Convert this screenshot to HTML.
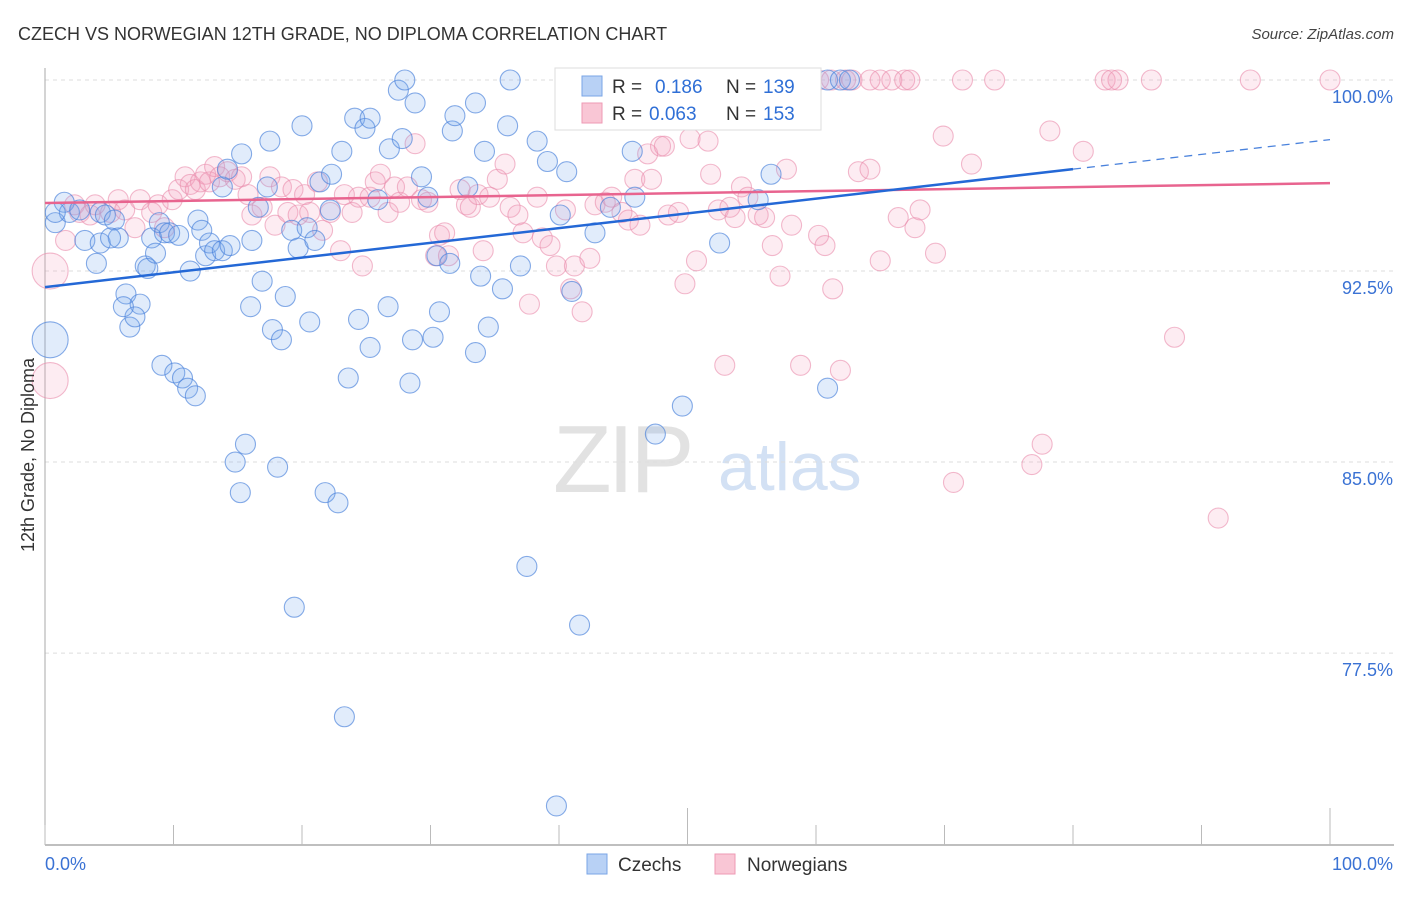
<!DOCTYPE html>
<html><head><meta charset="utf-8">
<style>
body{margin:0;background:#fff;font-family:"Liberation Sans",sans-serif;}
svg text{font-family:"Liberation Sans",sans-serif;}
</style></head>
<body>
<svg id="chart" width="1406" height="892" viewBox="0 0 1406 892" xmlns="http://www.w3.org/2000/svg">
<text x="18" y="40" font-size="18" fill="#333">CZECH VS NORWEGIAN 12TH GRADE, NO DIPLOMA CORRELATION CHART</text>
<text x="1394" y="39" font-size="15" fill="#444" text-anchor="end" font-style="italic">Source: ZipAtlas.com</text>
<g>
<text x="553" y="492" font-size="96" fill="#e2e2e2" font-family="Liberation Serif" letter-spacing="-4">ZIP</text>
<text x="718" y="490" font-size="68" fill="#d3e1f4">atlas</text>
</g>
<g id="grid"></g>
<g id="axes"></g>
<g id="pts-n"></g>
<g id="pts-c"></g>
<g id="trends"></g>
<text transform="translate(34,455) rotate(-90)" font-size="18" fill="#333" text-anchor="middle">12th Grade, No Diploma</text>
<g>
<rect x="555" y="68" width="266" height="62" fill="#fff" stroke="#ddd"/>
<rect x="582" y="76" width="20" height="20" fill="#b8d1f5" stroke="#7aa5e6"/>
<rect x="582" y="103" width="20" height="20" fill="#f9c6d5" stroke="#ee9ab4"/>
<text x="612" y="93" font-size="19" fill="#333">R =</text>
<text x="655" y="93" font-size="19" fill="#2f6fd6">0.186</text>
<text x="726" y="93" font-size="19" fill="#333">N =</text>
<text x="763" y="93" font-size="19" fill="#2f6fd6">139</text>
<text x="612" y="120" font-size="19" fill="#333">R =</text>
<text x="649" y="120" font-size="19" fill="#2f6fd6">0.063</text>
<text x="726" y="120" font-size="19" fill="#333">N =</text>
<text x="763" y="120" font-size="19" fill="#2f6fd6">153</text>
</g>
<g>
<rect x="587" y="854" width="20" height="20" fill="#b8d1f5" stroke="#7aa5e6"/>
<text x="618" y="871" font-size="19" fill="#333">Czechs</text>
<rect x="715" y="854" width="20" height="20" fill="#f9c6d5" stroke="#ee9ab4"/>
<text x="747" y="871" font-size="19" fill="#333">Norwegians</text>
</g>
</svg>
<script>
const yTicks=[100,92.5,85,77.5];
const yTickLabels=["100.0%","92.5%","85.0%","77.5%"];
const xTicks=[0,10,20,30,40,50,60,70,80,90,100];
const czechX=[0.8,0.4,1.5,1.9,0.8,2.7,4.3,4.7,5.4,3.1,4.3,5.7,5.1,4.0,6.3,7.4,6.6,7.0,6.1,7.8,8.0,8.3,8.6,8.9,9.3,9.7,10.4,11.3,9.1,10.1,10.7,11.1,11.7,11.9,12.2,12.5,12.8,13.2,13.8,14.4,13.8,14.2,15.3,14.8,15.2,15.6,16.0,16.1,16.6,16.9,17.3,17.5,17.7,18.1,18.4,18.7,19.2,19.4,19.7,20.0,20.4,20.6,21.0,21.4,21.8,22.2,22.3,22.8,23.1,23.3,23.6,24.1,24.4,24.9,25.3,25.3,25.9,26.7,26.8,27.5,27.8,28.0,28.4,28.6,28.8,29.3,29.8,30.2,30.5,30.7,31.5,31.7,31.9,32.9,33.5,33.5,33.9,34.2,34.5,35.6,36.0,36.2,37.0,37.5,38.3,39.1,39.8,40.1,40.6,41.0,41.6,42.8,44.0,44.6,45.7,45.9,46.5,47.5,48.0,49.6,52.5,53.3,55.5,56.5,60.9,60.9,61.9,62.6];
const czechY=[94.4,89.8,95.2,94.8,94.8,94.9,94.8,94.7,94.5,93.7,93.6,93.8,93.8,92.8,91.6,91.2,90.3,90.7,91.1,92.7,92.6,93.8,93.2,94.4,94.0,94.0,93.9,92.5,88.8,88.5,88.3,87.9,87.6,94.5,94.1,93.1,93.6,93.3,93.3,93.5,95.8,96.5,97.1,85.0,83.8,85.7,91.1,93.7,95.0,92.1,95.8,97.6,90.2,84.8,89.8,91.5,94.1,79.3,93.4,98.2,94.2,90.5,93.7,96.0,83.8,94.9,96.3,83.4,97.2,75.0,88.3,98.5,90.6,98.1,98.5,89.5,95.3,91.1,97.3,99.6,97.7,100,88.1,89.8,99.1,96.2,95.4,89.9,93.1,90.9,92.8,98.0,98.6,95.8,99.1,89.3,92.3,97.2,90.3,91.8,98.2,100,92.7,80.9,97.6,96.8,71.5,94.7,96.4,91.7,78.6,94.0,95.0,100,97.2,95.4,100,86.1,99.4,87.2,93.6,100,95.3,96.3,87.9,100,100,100];
const norX=[0.4,0.4,1.6,2.3,2.7,3.5,3.9,5.1,5.7,6.2,7.0,7.4,8.3,8.8,9.3,9.9,10.4,10.9,11.3,11.7,12.1,12.5,12.8,13.2,13.6,14.2,14.8,15.3,15.8,16.1,16.9,17.5,17.9,18.4,18.9,19.3,19.7,20.2,20.6,21.2,21.6,22.2,23.0,23.3,23.9,24.4,24.7,25.3,25.7,26.1,26.7,27.2,27.6,28.2,28.8,29.3,29.8,30.4,30.7,31.1,31.4,32.3,32.8,33.1,33.7,34.1,34.6,35.2,35.8,36.2,36.8,37.2,37.7,38.3,38.7,39.3,39.8,40.5,40.9,41.2,41.8,42.4,42.8,43.6,44.1,44.9,45.4,45.9,46.3,46.9,47.2,47.9,48.2,48.5,49.3,49.8,50.2,50.7,51.6,51.8,52.4,52.9,53.3,53.7,54.2,54.7,55.5,56.0,56.6,57.2,57.7,58.1,58.8,60.2,60.7,61.3,61.9,62.3,62.8,63.3,64.2,65.0,65.0,65.9,66.4,66.9,67.7,68.1,69.3,69.9,70.7,71.4,72.1,73.9,76.8,77.6,78.2,80.8,82.5,83.5,86.1,87.9,91.3,93.8,100,60.2,61.2,64.2,67.3,83.0];
const norY=[88.2,92.5,93.7,95.1,94.8,94.7,95.1,94.8,95.3,94.9,94.2,95.3,94.8,95.1,94.2,95.3,95.7,96.2,95.9,95.7,96.0,96.3,96.0,96.6,96.2,96.4,96.1,96.2,95.5,94.7,95.0,96.2,94.3,95.8,94.8,95.7,94.7,95.5,94.8,96.0,94.1,94.8,93.3,95.5,94.8,95.4,92.7,95.4,96.0,96.3,94.8,95.8,95.2,95.8,97.5,95.3,95.2,93.1,93.9,94.0,93.1,95.7,95.1,95.0,95.5,93.3,95.4,96.1,96.7,95.0,94.7,94.0,91.2,95.4,93.8,93.5,92.7,94.9,91.8,92.7,90.9,93.0,95.1,95.2,95.4,94.8,94.5,96.1,94.3,97.1,96.1,97.4,97.4,94.7,94.8,92.0,97.7,92.9,97.6,96.3,94.9,88.8,95.0,94.6,95.8,95.4,94.7,94.6,93.5,92.3,96.5,94.3,88.8,93.9,93.5,91.8,88.6,100,100,96.4,96.5,92.9,100,100,94.6,100,94.2,94.9,93.2,97.8,84.2,100,96.7,100,84.9,85.7,98.0,97.2,100,100,100,89.9,82.8,100,100,100,100,100,100,100];
const czechTrend=[[0,91.87],[80,96.5],[100,97.66]];
const norTrend=[[0,95.17],[100,95.95]];
const X0=45,X1=1330,Y100=80,PXPER=25.47;
const sx=v=>X0+(X1-X0)*v/100;
const sy=v=>Y100+(100-v)*PXPER;
const NS="http://www.w3.org/2000/svg";
function mk(t,a,p){const e=document.createElementNS(NS,t);for(const k in a)e.setAttribute(k,a[k]);p.appendChild(e);return e;}
const grid=document.getElementById('grid'),axes=document.getElementById('axes');
yTicks.forEach((t,i)=>{
 const g=mk('line',{x1:45,x2:1394,y1:sy(t),y2:sy(t),stroke:'#ddd','stroke-dasharray':'4,4'},grid);
 
 
 const l=mk('text',{x:1393,y:sy(t)+23,'font-size':18,fill:'#3a72d4','text-anchor':'end'},axes);
 l.textContent=yTickLabels[i];
 
 
});
const ya=mk('line',{x1:45,x2:45,y1:68,y2:845,stroke:'#aaa'},axes);


const xa=mk('line',{x1:45,x2:1394,y1:845,y2:845,stroke:'#aaa','stroke-width':1.5},axes);


xTicks.forEach(t=>{
 const major=(t===50||t===100);
 const tk=mk('line',{x1:sx(t),x2:sx(t),y1:major?808:825,y2:845,stroke:'#bbb'},axes);
 
 
});
const xl0=mk('text',{x:45,y:870,'font-size':18,fill:'#3a72d4'},axes);xl0.textContent='0.0%';


const xl1=mk('text',{x:1393,y:870,'font-size':18,fill:'#3a72d4','text-anchor':'end'},axes);xl1.textContent='100.0%';


function pts(xs,ys,gid,fill,stroke,name){
 const g=document.getElementById(gid);
 xs.forEach((x,i)=>{
  const big=(x<=0.5&&i<2);
  const c=mk('circle',{cx:sx(x),cy:sy(ys[i]),r:big?18:10,fill:fill,stroke:stroke,'stroke-width':1.1},g);
  
  
 });
}
pts(norX,norY,'pts-n','rgba(244,160,188,0.2)','rgba(234,140,172,0.6)','norwegian-point');
pts(czechX,czechY,'pts-c','rgba(120,168,235,0.22)','rgba(70,128,218,0.65)','czech-point');
const tr=document.getElementById('trends');
const p1=mk('line',{x1:sx(norTrend[0][0]),y1:sy(norTrend[0][1]),x2:sx(norTrend[1][0]),y2:sy(norTrend[1][1]),stroke:'#e8648f','stroke-width':2.5},tr);


const c1=mk('line',{x1:sx(czechTrend[0][0]),y1:sy(czechTrend[0][1]),x2:sx(czechTrend[1][0]),y2:sy(czechTrend[1][1]),stroke:'#2468d6','stroke-width':2.5},tr);


const c2=mk('line',{x1:sx(czechTrend[1][0]),y1:sy(czechTrend[1][1]),x2:sx(czechTrend[2][0]),y2:sy(czechTrend[2][1]),stroke:'#4a82dc','stroke-width':1.3,'stroke-dasharray':'8,6'},tr);


</script>
</body></html>
